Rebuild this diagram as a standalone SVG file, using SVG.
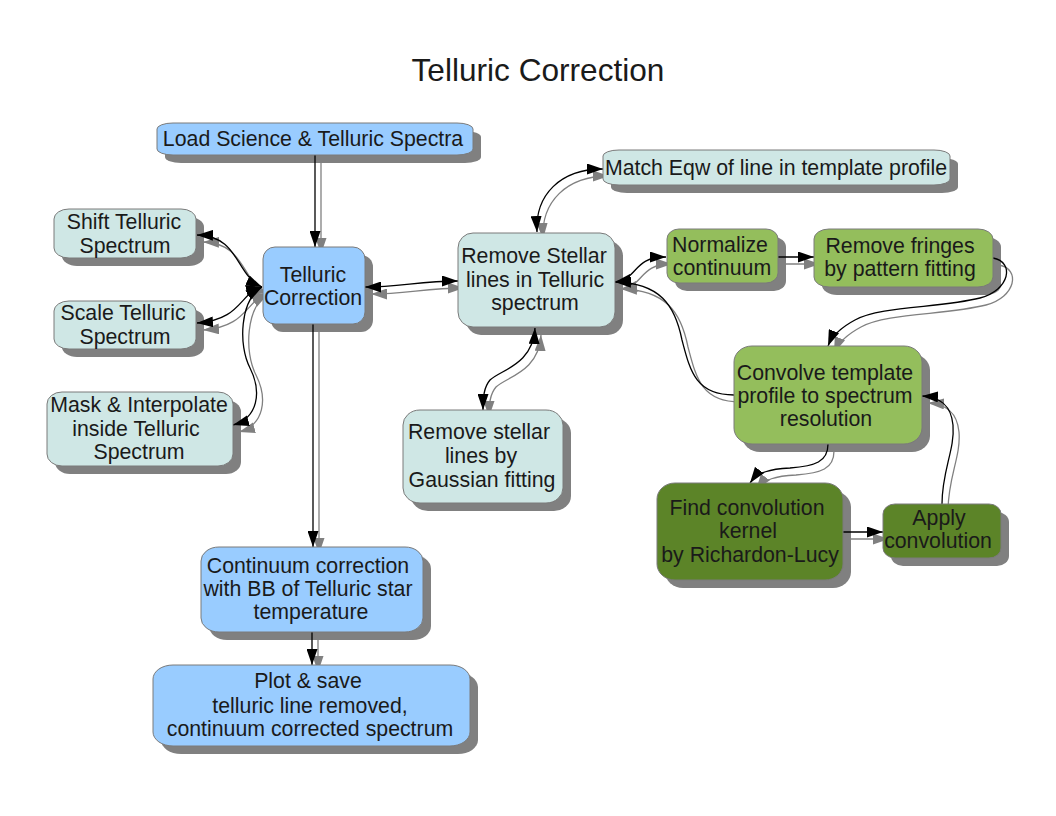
<svg xmlns="http://www.w3.org/2000/svg" width="1056" height="816" viewBox="0 0 1056 816">
<style>
.sh{fill:#808080}
.box{stroke:#7a7a7a;stroke-width:1}
.blue{fill:#99ccff}
.cyan{fill:#cfe7e5}
.lg{fill:#94be5c}
.dg{fill:#5c8428}
text{font-family:"Liberation Sans",Arial,sans-serif;font-size:21.3px;fill:#1a1a1a;text-anchor:middle}
.title{font-size:31.6px}
.cb{fill:none;stroke:#000;stroke-width:1.3}
.cg{fill:none;stroke:#808080;stroke-width:1.3}
</style>
<defs>
<marker id="ab" viewBox="0 0 16 11" refX="16" refY="5.5" markerWidth="16" markerHeight="11" markerUnits="userSpaceOnUse" orient="auto-start-reverse"><path d="M0,0 L16,5.5 L0,11 z" fill="#000"/></marker>
<marker id="ag" viewBox="0 0 16 11" refX="16" refY="5.5" markerWidth="16" markerHeight="11" markerUnits="userSpaceOnUse" orient="auto-start-reverse"><path d="M0,0 L16,5.5 L0,11 z" fill="#808080"/></marker>
</defs>
<rect width="1056" height="816" fill="#fff"/>
<text class="title" x="538" y="81">Telluric Correction</text>

<g id="shadows">
<rect class="sh" x="165" y="131" width="316" height="32" rx="16" ry="6"/>
<rect class="sh" x="62" y="217" width="142" height="49" rx="15" ry="10"/>
<rect class="sh" x="62" y="309" width="142" height="48" rx="15" ry="10"/>
<rect class="sh" x="55" y="400" width="186" height="74" rx="15" ry="12"/>
<rect class="sh" x="271" y="255" width="102" height="77" rx="12" ry="12"/>
<rect class="sh" x="466" y="241" width="157" height="94" rx="15" ry="15"/>
<rect class="sh" x="611" y="158" width="347" height="35" rx="16" ry="6"/>
<rect class="sh" x="675" y="237" width="111" height="54" rx="12" ry="10"/>
<rect class="sh" x="822" y="237" width="179" height="58" rx="15" ry="10"/>
<rect class="sh" x="742" y="354" width="188" height="98" rx="18" ry="16"/>
<rect class="sh" x="411" y="418" width="160" height="93" rx="17" ry="15"/>
<rect class="sh" x="665" y="491" width="186" height="97" rx="18" ry="16"/>
<rect class="sh" x="891" y="512" width="118" height="54" rx="12" ry="10"/>
<rect class="sh" x="209" y="555" width="222" height="85" rx="18" ry="14"/>
<rect class="sh" x="161" y="673" width="317" height="81" rx="20" ry="14"/>
</g>

<g id="connectors">
<g id="connector-shadows" transform="translate(6,7)">
<path class="cg" d="M315,155 L315,247" marker-end="url(#ag)"/>
<path class="cg" d="M365,287 C400,287 420,281 458,281" marker-start="url(#ag)" marker-end="url(#ag)"/>
<path class="cg" d="M262,287 C235,275 240,236 197,235" marker-start="url(#ag)" marker-end="url(#ag)"/>
<path class="cg" d="M262,287 C240,292 242,320 197,323" marker-start="url(#ag)" marker-end="url(#ag)"/>
<path class="cg" d="M262,287 C240,300 238,345 250,368 C262,392 258,418 233,425" marker-start="url(#ag)" marker-end="url(#ag)"/>
<path class="cg" d="M537,232 C535,195 560,169 603,169" marker-start="url(#ag)" marker-end="url(#ag)"/>
<path class="cg" d="M615,282 C640,278 632,257 666,257" marker-start="url(#ag)" marker-end="url(#ag)"/>
<path class="cg" d="M734,395 C695,395 690,370 682,340 C675,305 660,283 615,282" marker-end="url(#ag)"/>
<path class="cg" d="M778,257 L814,257" marker-end="url(#ag)"/>
<path class="cg" d="M993,258 C1015,262 1010,290 980,298 C940,308 880,306 855,320 C840,328 832,336 828,346" marker-end="url(#ag)"/>
<path class="cg" d="M828,444 C828,462 815,466 790,468 C770,469 758,472 750,483" marker-end="url(#ag)"/>
<path class="cg" d="M843,532 L883,532" marker-end="url(#ag)"/>
<path class="cg" d="M942,504 C942,470 955,450 953,425 C951,405 940,397 922,396" marker-end="url(#ag)"/>
<path class="cg" d="M313,324 L313,547" marker-end="url(#ag)"/>
<path class="cg" d="M312,632 L312,665" marker-end="url(#ag)"/>
<path class="cg" d="M535,328 C533,365 500,370 490,380 C484,387 483,397 483,410" marker-start="url(#ag)" marker-end="url(#ag)"/>
</g>
<path class="cb" d="M315,155 L315,247" marker-end="url(#ab)"/>
<path class="cb" d="M365,287 C400,287 420,281 458,281" marker-start="url(#ab)" marker-end="url(#ab)"/>
<path class="cb" d="M262,287 C235,275 240,236 197,235" marker-start="url(#ab)" marker-end="url(#ab)"/>
<path class="cb" d="M262,287 C240,292 242,320 197,323" marker-start="url(#ab)" marker-end="url(#ab)"/>
<path class="cb" d="M262,287 C240,300 238,345 250,368 C262,392 258,418 233,425" marker-start="url(#ab)" marker-end="url(#ab)"/>
<path class="cb" d="M537,232 C535,195 560,169 603,169" marker-start="url(#ab)" marker-end="url(#ab)"/>
<path class="cb" d="M615,282 C640,278 632,257 666,257" marker-start="url(#ab)" marker-end="url(#ab)"/>
<path class="cb" d="M734,395 C695,395 690,370 682,340 C675,305 660,283 615,282" marker-end="url(#ab)"/>
<path class="cb" d="M778,257 L814,257" marker-end="url(#ab)"/>
<path class="cb" d="M993,258 C1015,262 1010,290 980,298 C940,308 880,306 855,320 C840,328 832,336 828,346" marker-end="url(#ab)"/>
<path class="cb" d="M828,444 C828,462 815,466 790,468 C770,469 758,472 750,483" marker-end="url(#ab)"/>
<path class="cb" d="M843,532 L883,532" marker-end="url(#ab)"/>
<path class="cb" d="M942,504 C942,470 955,450 953,425 C951,405 940,397 922,396" marker-end="url(#ab)"/>
<path class="cb" d="M313,324 L313,547" marker-end="url(#ab)"/>
<path class="cb" d="M312,632 L312,665" marker-end="url(#ab)"/>
<path class="cb" d="M535,328 C533,365 500,370 490,380 C484,387 483,397 483,410" marker-start="url(#ab)" marker-end="url(#ab)"/>
</g>

<g id="node-load">
<rect class="box blue" x="157" y="123" width="316" height="32" rx="16" ry="6"/>
<text x="313" y="146">Load Science &amp; Telluric Spectra</text>
</g>
<g id="node-shift">
<rect class="box cyan" x="54" y="209" width="142" height="49" rx="15" ry="10"/>
<text x="124" y="229">Shift Telluric</text>
<text x="125" y="253">Spectrum</text>
</g>
<g id="node-scale">
<rect class="box cyan" x="54" y="301" width="142" height="48" rx="15" ry="10"/>
<text x="123" y="320">Scale Telluric</text>
<text x="125" y="344">Spectrum</text>
</g>
<g id="node-mask">
<rect class="box cyan" x="47" y="392" width="186" height="74" rx="15" ry="12"/>
<text x="139" y="412">Mask &amp; Interpolate</text>
<text x="136" y="436">inside Telluric</text>
<text x="139" y="459">Spectrum</text>
</g>
<g id="node-telluric">
<rect class="box blue" x="263" y="247" width="102" height="77" rx="12" ry="12"/>
<text x="313" y="282">Telluric</text>
<text x="313" y="305">Correction</text>
</g>
<g id="node-remove-stellar">
<rect class="box cyan" x="458" y="233" width="157" height="94" rx="15" ry="15"/>
<text x="534" y="263">Remove Stellar</text>
<text x="535" y="287">lines in Telluric</text>
<text x="535" y="310">spectrum</text>
</g>
<g id="node-match">
<rect class="box cyan" x="603" y="150" width="347" height="35" rx="16" ry="6"/>
<text x="776" y="175">Match Eqw of line in template profile</text>
</g>
<g id="node-normalize">
<rect class="box lg" x="667" y="229" width="111" height="54" rx="12" ry="10"/>
<text x="720" y="252">Normalize</text>
<text x="722" y="275">continuum</text>
</g>
<g id="node-fringes">
<rect class="box lg" x="814" y="229" width="179" height="58" rx="15" ry="10"/>
<text x="900" y="253">Remove fringes</text>
<text x="900" y="276">by pattern fitting</text>
</g>
<g id="node-convolve">
<rect class="box lg" x="734" y="346" width="188" height="98" rx="18" ry="16"/>
<text x="825" y="380">Convolve template</text>
<text x="825" y="403">profile to spectrum</text>
<text x="826" y="426">resolution</text>
</g>
<g id="node-gaussian">
<rect class="box cyan" x="403" y="410" width="160" height="93" rx="17" ry="15"/>
<text x="479" y="439">Remove stellar</text>
<text x="481" y="463">lines by</text>
<text x="482" y="487">Gaussian fitting</text>
</g>
<g id="node-find">
<rect class="box dg" x="657" y="483" width="186" height="97" rx="18" ry="16"/>
<text x="747" y="515">Find convolution</text>
<text x="748" y="538">kernel</text>
<text x="750" y="562">by Richardon-Lucy</text>
</g>
<g id="node-apply">
<rect class="box dg" x="883" y="504" width="118" height="54" rx="12" ry="10"/>
<text x="939" y="525">Apply</text>
<text x="938" y="548">convolution</text>
</g>
<g id="node-continuum">
<rect class="box blue" x="201" y="547" width="222" height="85" rx="18" ry="14"/>
<text x="308" y="573">Continuum correction</text>
<text x="308" y="596">with BB of Telluric star</text>
<text x="311" y="619">temperature</text>
</g>
<g id="node-plot">
<rect class="box blue" x="153" y="665" width="317" height="81" rx="20" ry="14"/>
<text x="308" y="688">Plot &amp; save</text>
<text x="310" y="713">telluric line removed,</text>
<text x="310" y="736">continuum corrected spectrum</text>
</g>
</svg>
